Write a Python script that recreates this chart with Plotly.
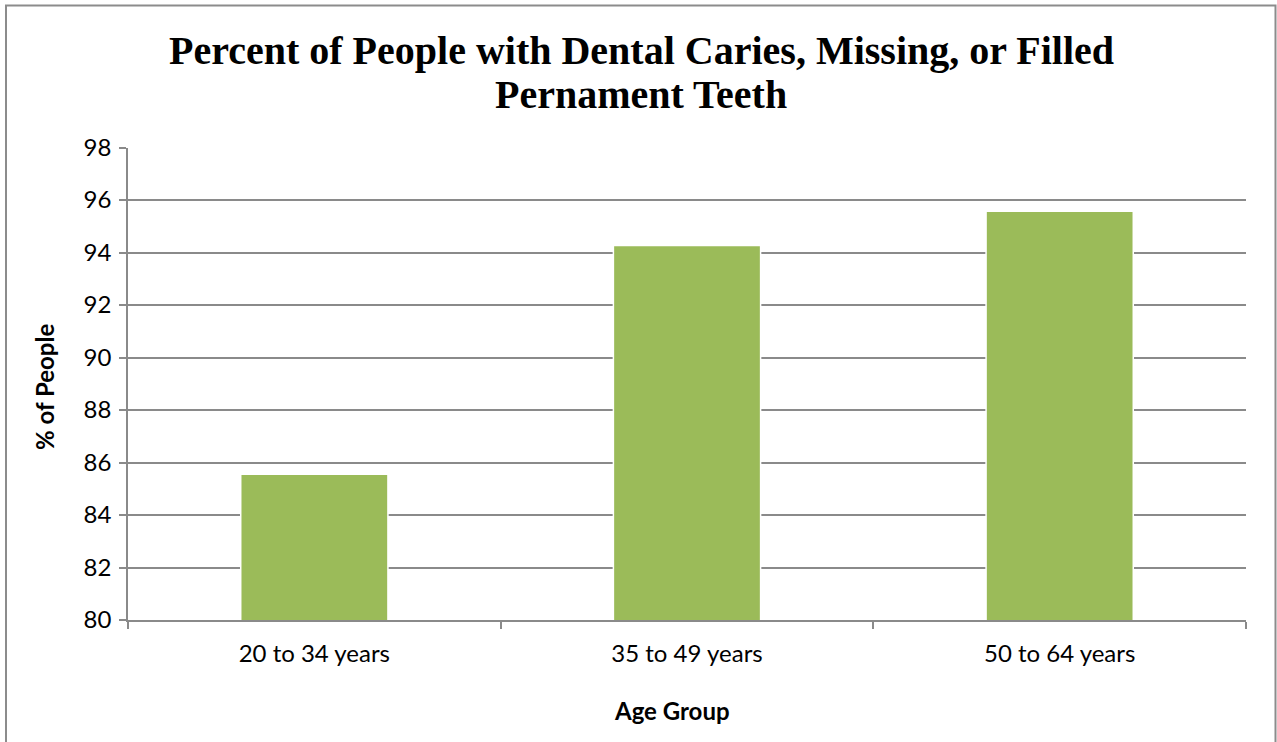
import plotly.graph_objects as go

categories = ["20 to 34 years", "35 to 49 years", "50 to 64 years"]
values = [85.55, 94.27, 95.57]
y_ticks = [80, 82, 84, 86, 88, 90, 92, 94, 96, 98]
title_lines = ["Percent of People with Dental Caries, Missing, or Filled", "Pernament Teeth"]
x_title = "Age Group"
y_title = "% of People"

W, H = 1277, 742
PX0, PX1, PY0, PY1 = 128, 1246, 147.5, 620  # plot area in pixels
GRID = "#8a8a8a"


def dx(px):
    return (px - PX0) / (PX1 - PX0)


def dy(py):
    return (PY1 - py) / (PY1 - PY0)


fig = go.Figure()
fig.add_trace(go.Bar(
    x=categories, y=values,
    marker=dict(color="#9BBB59", line=dict(color="white", width=1.5)),
    showlegend=False,
))

label_font = dict(family="Lato, Carlito, Calibri, sans-serif", size=24, color="black")
title_font = dict(family="Liberation Serif, Times New Roman, serif", size=40, color="black", weight="bold")

fig.update_layout(
    width=W, height=H,
    autosize=False,
    margin=dict(l=0, r=0, t=0, b=0, autoexpand=False),
    paper_bgcolor="white", plot_bgcolor="white",
    bargap=0.605,
    showlegend=False,
    xaxis=dict(
        domain=[PX0 / W, PX1 / W],
        type="category",
        showgrid=False,
        showline=True, linecolor=GRID, linewidth=1.5,
        ticks="outside", ticklen=7, tickcolor=GRID, tickwidth=1.5,
        tickson="boundaries",
        tickfont=label_font,
        ticklabelstandoff=11,
    ),
    yaxis=dict(
        domain=[(H - PY1) / H, (H - PY0) / H],
        range=[80, 98],
        tickvals=y_ticks,
        showgrid=True, gridcolor=GRID, gridwidth=1.5,
        showline=True, linecolor=GRID, linewidth=1.5,
        ticks="outside", ticklen=7, tickcolor=GRID, tickwidth=1.5,
        tickfont=label_font,
        ticklabelstandoff=3,
        zeroline=False,
    ),
    shapes=[dict(
        type="rect", xref="paper", yref="paper",
        x0=6 / W, x1=1275.5 / W, y0=-0.05, y1=(H - 5.5) / H,
        line=dict(color="#8c8c8c", width=2), fillcolor="rgba(0,0,0,0)",
    )],
    annotations=[
        dict(text=title_lines[0], xref="x domain", yref="y domain", x=dx(641), y=dy(50),
             showarrow=False, xanchor="center", yanchor="middle", font=title_font),
        dict(text=title_lines[1], xref="x domain", yref="y domain", x=dx(641), y=dy(94),
             showarrow=False, xanchor="center", yanchor="middle", font=title_font),
        dict(text="<b>" + x_title + "</b>", xref="x domain", yref="y domain", x=dx(672), y=dy(710),
             showarrow=False, xanchor="center", yanchor="middle",
             font=dict(family="Lato, Carlito, Calibri, sans-serif", size=24, color="black")),
        dict(text="<b>" + y_title + "</b>", xref="x domain", yref="y domain", x=dx(44), y=dy(387),
             showarrow=False, xanchor="center", yanchor="middle", textangle=-90,
             font=dict(family="Lato, Carlito, Calibri, sans-serif", size=24, color="black")),
    ],
)

fig.write_html(
    "out.html",
    config={"responsive": False, "displayModeBar": False},
    post_script="document.body.style.margin='0';",
)
